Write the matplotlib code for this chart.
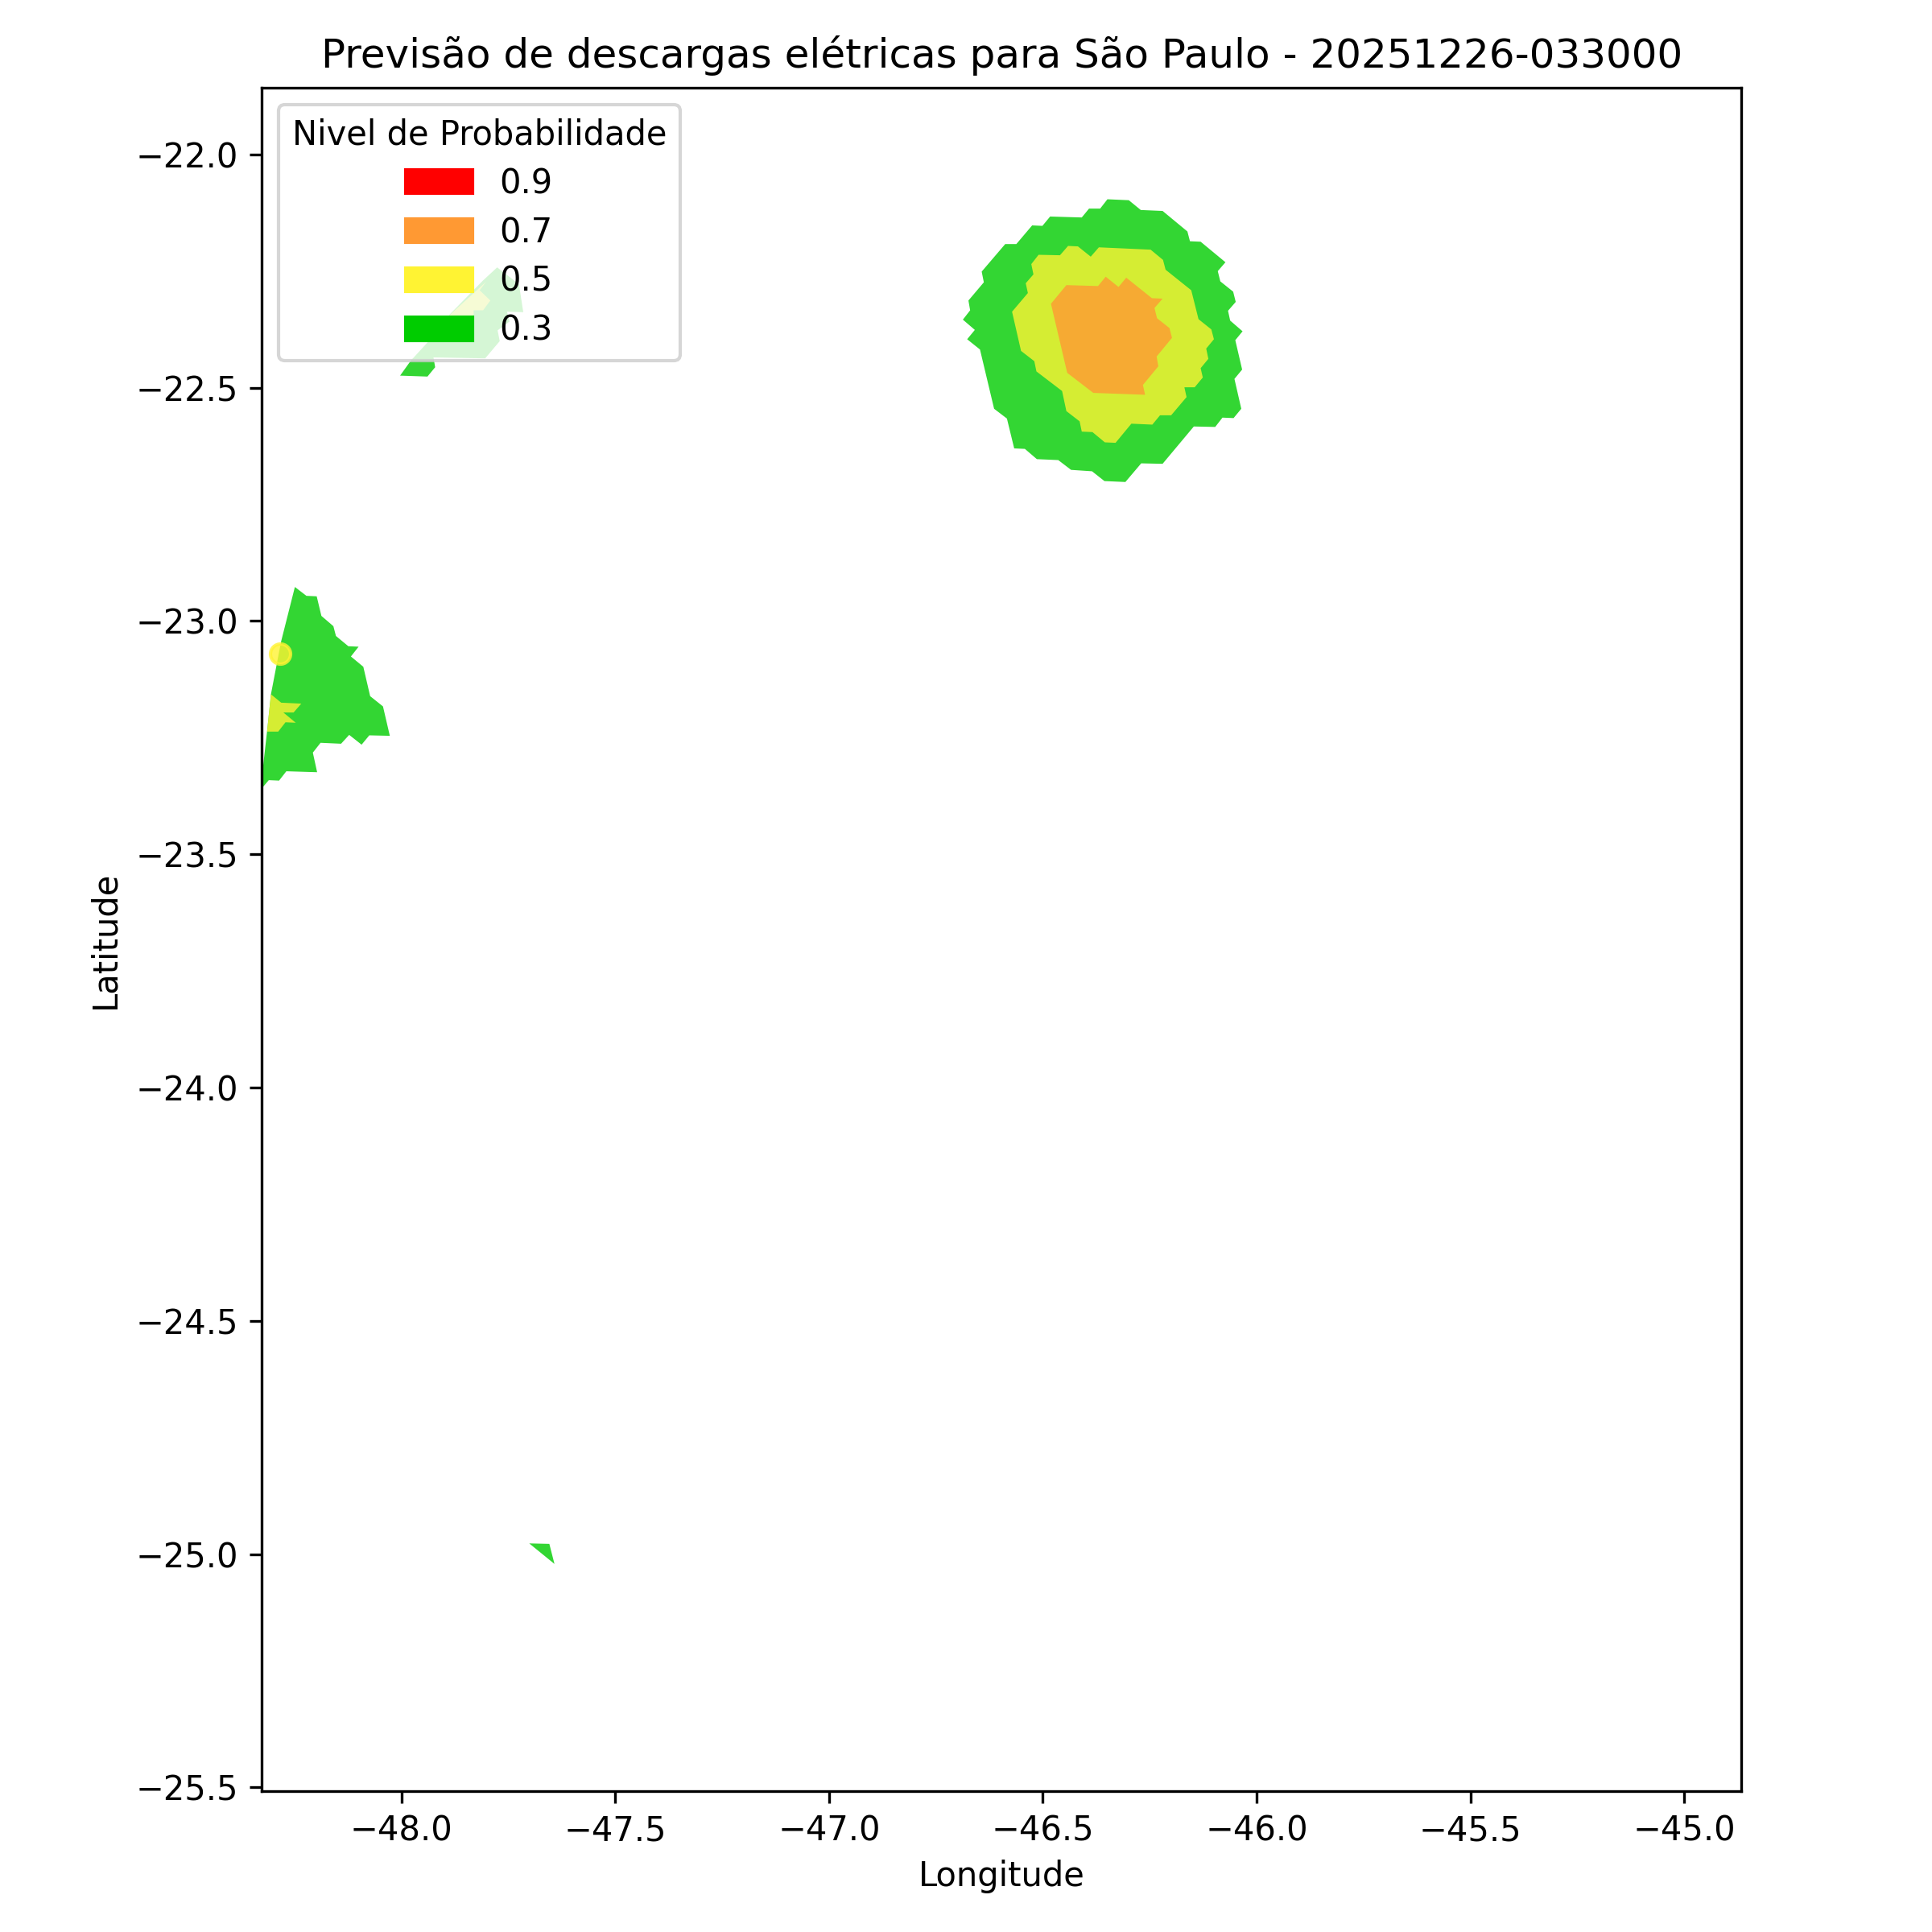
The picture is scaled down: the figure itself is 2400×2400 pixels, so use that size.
import matplotlib
matplotlib.use("Agg")
from matplotlib import pyplot as plt
from matplotlib.patches import Patch

# contour outlines (lon, lat)
east_03_lon = [-46.349, -46.299, -46.271, -46.220, -46.162, -46.156, -46.131, -46.073, -46.091, -46.085, -46.055, -46.049, -46.067, -46.062, -46.033, -46.050, -46.034, -46.052, -46.036, -46.054, -46.080, -46.097, -46.147, -46.220, -46.270, -46.307, -46.356, -46.385, -46.434, -46.464, -46.514, -46.542, -46.567, -46.584, -46.614, -46.647, -46.677, -46.659, -46.687, -46.670, -46.674, -46.638, -46.643, -46.588, -46.562, -46.525, -46.501, -46.483, -46.409, -46.392, -46.366]
east_03_lat = [-22.096, -22.098, -22.119, -22.121, -22.165, -22.186, -22.187, -22.231, -22.250, -22.272, -22.294, -22.316, -22.335, -22.356, -22.379, -22.398, -22.461, -22.481, -22.545, -22.565, -22.564, -22.584, -22.583, -22.663, -22.662, -22.702, -22.700, -22.679, -22.676, -22.655, -22.653, -22.631, -22.630, -22.566, -22.545, -22.418, -22.396, -22.376, -22.354, -22.334, -22.313, -22.274, -22.251, -22.192, -22.192, -22.152, -22.153, -22.133, -22.135, -22.116, -22.116]

east_05_lon = [-46.441, -46.418, -46.388, -46.369, -46.248, -46.219, -46.213, -46.153, -46.136, -46.106, -46.100, -46.118, -46.113, -46.131, -46.126, -46.145, -46.169, -46.164, -46.200, -46.226, -46.244, -46.293, -46.330, -46.355, -46.384, -46.409, -46.414, -46.445, -46.455, -46.515, -46.520, -46.551, -46.572, -46.535, -46.540, -46.522, -46.527, -46.510, -46.460]
east_05_lat = [-22.196, -22.197, -22.219, -22.199, -22.204, -22.226, -22.247, -22.291, -22.353, -22.375, -22.396, -22.416, -22.438, -22.458, -22.478, -22.499, -22.499, -22.520, -22.559, -22.559, -22.579, -22.577, -22.618, -22.617, -22.595, -22.594, -22.572, -22.550, -22.507, -22.465, -22.443, -22.421, -22.337, -22.297, -22.276, -22.257, -22.235, -22.215, -22.216]

east_07_lon = [-46.445, -46.371, -46.353, -46.323, -46.305, -46.245, -46.220, -46.239, -46.233, -46.204, -46.198, -46.234, -46.230, -46.266, -46.261, -46.382, -46.443, -46.481]
east_07_lat = [-22.280, -22.282, -22.262, -22.284, -22.264, -22.308, -22.309, -22.329, -22.351, -22.372, -22.393, -22.433, -22.454, -22.494, -22.515, -22.511, -22.468, -22.320]

west_03_lon = [-48.249, -48.222, -48.198, -48.187, -48.159, -48.153, -48.124, -48.100, -48.118, -48.089, -48.073, -48.043, -48.027, -48.075, -48.093, -48.122, -48.141, -48.189, -48.207, -48.197, -48.269, -48.286, -48.310, -48.323, -48.328, -48.325, -48.314, -48.305, -48.292, -48.281]
west_03_lat = [-22.927, -22.946, -22.947, -22.989, -23.011, -23.032, -23.054, -23.055, -23.076, -23.098, -23.161, -23.183, -23.246, -23.245, -23.265, -23.244, -23.263, -23.261, -23.282, -23.324, -23.322, -23.342, -23.341, -23.355, -23.360, -23.325, -23.236, -23.157, -23.095, -23.043]

west_05_lon = [-48.305, -48.281, -48.234, -48.252, -48.276, -48.247, -48.271, -48.288, -48.314]
west_05_lat = [-23.157, -23.175, -23.177, -23.196, -23.196, -23.218, -23.217, -23.237, -23.237]

north_03_lon = [-47.776, -47.725, -47.715, -47.753, -47.747, -47.775, -47.770, -47.804, -47.925, -47.921, -47.939, -48.003, -47.978, -47.935, -47.885, -47.809]
north_03_lat = [-22.242, -22.278, -22.338, -22.337, -22.358, -22.377, -22.400, -22.437, -22.435, -22.456, -22.476, -22.474, -22.442, -22.399, -22.341, -22.270]

north_05_lon = [-47.802, -47.817, -47.792, -47.809, -47.831, -47.831, -47.888]
north_05_lat = [-22.273, -22.291, -22.313, -22.334, -22.334, -22.345, -22.345]

south_03_lon = [-47.701, -47.654, -47.642]
south_03_lat = [-24.977, -24.978, -25.021]

spot_lon = [-48.283]
spot_lat = [-23.070]

levels = ["0.9", "0.7", "0.5", "0.3"]
level_colors = ["#ff0000", "#ff9933", "#fff333", "#00cc00"]
green, yellow, orange = level_colors[3], level_colors[2], level_colors[1]

fig, ax = plt.subplots(figsize=(8, 8), dpi=300)
fig.subplots_adjust(left=0.1355, right=0.9014, top=0.9545, bottom=0.0730)

for lon, lat in [(east_03_lon, east_03_lat), (west_03_lon, west_03_lat),
                 (north_03_lon, north_03_lat), (south_03_lon, south_03_lat)]:
    ax.fill(lon, lat, color=green, alpha=0.8, linewidth=0)
for lon, lat in [(east_05_lon, east_05_lat), (west_05_lon, west_05_lat),
                 (north_05_lon, north_05_lat)]:
    ax.fill(lon, lat, color=yellow, alpha=0.8, linewidth=0)
ax.fill(east_07_lon, east_07_lat, color=orange, alpha=0.8, linewidth=0)
ax.plot(spot_lon, spot_lat, "o", color=yellow, alpha=0.8)

ax.set_xlim(-48.3264, -44.8663)
ax.set_ylim(-25.5076, -21.8573)
ax.set_title("Previsão de descargas elétricas para São Paulo - 20251226-033000")
ax.set_xlabel("Longitude", labelpad=3.3)
ax.set_ylabel("Latitude")

handles = [Patch(color=c, label=l) for c, l in zip(level_colors, levels)]
ax.legend(handles=handles, title="Nivel de Probabilidade", loc="upper left", labelspacing=0.45)

fig.savefig("out.png")
